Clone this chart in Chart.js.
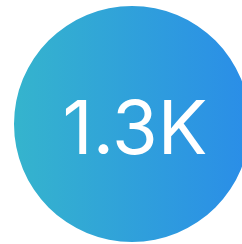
<!DOCTYPE html>
<html><head><meta charset="utf-8">
<script src="https://cdn.jsdelivr.net/npm/chart.js@4/dist/chart.umd.min.js"></script>
<style>
html,body{margin:0;padding:0;background:#fff;overflow:hidden;width:242px;height:244px;}
#wrap{position:absolute;left:14px;top:6px;width:236px;height:236px;}
</style></head>
<body>
<div id="wrap"><canvas id="c"></canvas></div>
<script>
const categories = ['Total'];
const values = [1300];
const centerLabel = '1.3K';
const gradientStops = ['#35b4cd', '#2a8de8'];

const centerText = {
  id: 'centerText',
  afterDatasetsDraw(chart) {
    const {ctx, chartArea} = chart;
    const x = (chartArea.left + chartArea.right) / 2 + 3;
    const y = (chartArea.top + chartArea.bottom) / 2 + 8;
    ctx.save();
    ctx.fillStyle = '#ffffff';
    ctx.font = '400 74px Inter';
    ctx.textAlign = 'center';
    ctx.textBaseline = 'middle';
    ctx.fillText(centerLabel, x, y);
    ctx.restore();
  }
};

new Chart(document.getElementById('c'), {
  type: 'pie',
  data: {
    labels: categories,
    datasets: [{
      data: values,
      borderWidth: 0,
      backgroundColor(context) {
        const chart = context.chart;
        const a = chart.chartArea;
        if (!a) return gradientStops[0];
        const g = chart.ctx.createLinearGradient(a.left, 0, a.right, 0);
        g.addColorStop(0, gradientStops[0]);
        g.addColorStop(1, gradientStops[1]);
        return g;
      }
    }]
  },
  options: {
    responsive: true,
    maintainAspectRatio: false,
    animation: false,
    layout: {padding: 0},
    plugins: {legend: {display: false}, tooltip: {enabled: false}}
  },
  plugins: [centerText]
});
</script>
</body></html>
